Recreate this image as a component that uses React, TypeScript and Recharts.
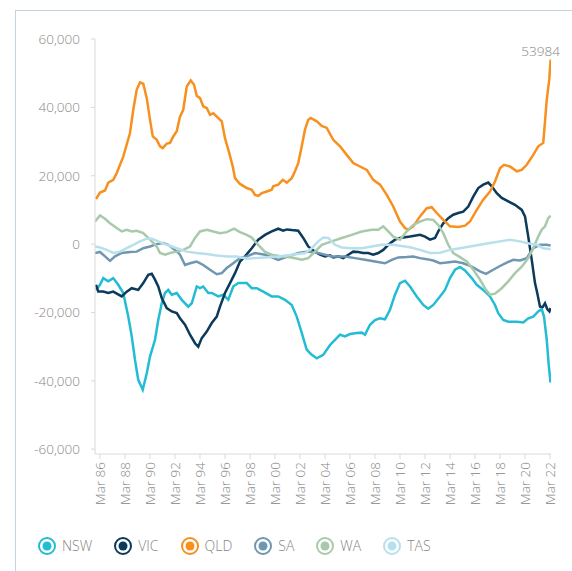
import { LineChart, Line, XAxis, YAxis, LabelList } from 'recharts';

// Net interstate migration by state (year as decimal, persons)
const nsw: [number, number][] = [
  [1985.68, -13400], [1986.0, -11900], [1986.26, -9950], [1986.66, -10900], [1987.06, -9950],
  [1987.46, -11900], [1987.86, -14300], [1988.26, -21200], [1988.54, -27000], [1988.8, -33900],
  [1989.06, -39700], [1989.42, -42600], [1989.74, -37800], [1990.0, -32900], [1990.4, -28000],
  [1990.66, -22200], [1990.94, -17300], [1991.2, -14300], [1991.46, -13400], [1991.74, -14800],
  [1992.14, -14300], [1992.54, -16300], [1993.06, -18300], [1993.34, -17300], [1993.74, -12400],
  [1994.0, -12900], [1994.26, -12400], [1994.66, -14300], [1994.94, -14300], [1995.46, -15300],
  [1995.86, -14800], [1996.26, -16300], [1996.66, -12400], [1997.06, -11400], [1997.74, -11400],
  [1998.14, -12900], [1998.54, -12900], [1999.06, -13900], [1999.74, -15300], [2000.26, -15300],
  [2000.8, -16300], [2001.34, -17800], [2001.74, -21200], [2002.14, -26000], [2002.54, -30900],
  [2002.94, -32400], [2003.34, -33400], [2003.86, -32400], [2004.4, -29500], [2004.8, -28000],
  [2005.2, -26500], [2005.6, -27000], [2006.0, -26300], [2006.54, -26000], [2006.94, -25900],
  [2007.2, -26500], [2007.6, -23600], [2008.0, -22200], [2008.4, -21700], [2008.8, -22000],
  [2009.2, -19200], [2009.6, -14800], [2010.0, -11400], [2010.4, -10700], [2010.8, -12400],
  [2011.34, -15300], [2011.86, -17800], [2012.26, -18900], [2012.66, -17800], [2013.2, -15300],
  [2013.6, -13400], [2014.0, -9950], [2014.4, -7500], [2014.8, -6700], [2015.2, -7700],
  [2015.74, -9950], [2016.14, -11900], [2016.66, -13400], [2017.2, -15300], [2017.6, -17800],
  [2017.86, -20200], [2018.26, -22200], [2018.66, -22700], [2019.34, -22700], [2019.86, -22900],
  [2020.26, -21700], [2020.66, -21200], [2021.06, -19700], [2021.34, -19000], [2021.52, -21200],
  [2021.74, -28000], [2021.9, -35400], [2022.04, -40500],
];

const vic: [number, number][] = [
  [1985.68, -11900], [1985.86, -13900], [1986.26, -13900], [1986.66, -14300], [1987.06, -13900],
  [1987.74, -15300], [1988.14, -13900], [1988.54, -12900], [1989.06, -13400], [1989.46, -11400],
  [1989.86, -9000], [1990.14, -8700], [1990.4, -10400], [1990.66, -12400], [1990.94, -15800],
  [1991.34, -18700], [1991.74, -19700], [1992.14, -20200], [1992.4, -21700], [1992.8, -23600],
  [1993.2, -26500], [1993.6, -29000], [1993.86, -30000], [1994.14, -27500], [1994.54, -25600],
  [1994.94, -23100], [1995.34, -21200], [1995.6, -18300], [1996.0, -14300], [1996.4, -11400],
  [1996.8, -8500], [1997.2, -5100], [1997.6, -3600], [1998.14, -1200], [1998.66, 1300],
  [1999.2, 2700], [1999.74, 3700], [2000.26, 4500], [2000.66, 3900], [2000.94, 4300],
  [2001.34, 4100], [2001.86, 3900], [2002.26, 1800], [2002.66, -700], [2003.2, -2200],
  [2003.6, -3100], [2004.0, -3600], [2004.4, -3300], [2004.66, -3900], [2005.06, -3600],
  [2005.46, -4100], [2005.86, -3100], [2006.26, -2200], [2006.66, -2300], [2007.06, -2600],
  [2007.46, -2600], [2007.86, -3100], [2008.26, -2600], [2008.66, -1700], [2009.06, -200],
  [2009.6, 1300], [2010.0, 1800], [2010.8, 2200], [2011.6, 2700], [2012.0, 2200],
  [2012.4, 1300], [2012.8, 1800], [2013.06, 3700], [2013.46, 6100], [2013.86, 7600],
  [2014.26, 8600], [2014.66, 9100], [2015.06, 9500], [2015.46, 11000], [2015.86, 13900],
  [2016.26, 16400], [2016.66, 17400], [2017.06, 18000], [2017.34, 16900], [2017.74, 14900],
  [2018.14, 13500], [2018.66, 12500], [2019.2, 11500], [2019.74, 10000], [2020.0, 8100],
  [2020.26, 2200], [2020.54, -4600], [2020.8, -11400], [2020.98, -14300], [2021.2, -18300],
  [2021.42, -18400], [2021.6, -17300], [2021.78, -19000], [2021.95, -19700], [2022.05, -18700],
];

const qld: [number, number][] = [
  [1985.68, 13200], [1986.0, 15100], [1986.4, 15700], [1986.66, 18000], [1987.06, 18800],
  [1987.34, 20800], [1987.86, 25600], [1988.4, 32500], [1988.66, 39300], [1988.94, 45200],
  [1989.2, 47300], [1989.46, 46900], [1989.74, 42700], [1990.0, 36400], [1990.22, 31500],
  [1990.54, 30500], [1990.8, 28600], [1991.02, 28100], [1991.34, 29400], [1991.6, 29600],
  [1991.86, 31500], [1992.14, 33000], [1992.4, 37300], [1992.66, 39300], [1992.94, 46100],
  [1993.26, 47900], [1993.52, 46600], [1993.74, 43400], [1994.0, 42700], [1994.26, 40300],
  [1994.54, 39800], [1994.8, 37800], [1995.06, 38300], [1995.34, 37300], [1995.74, 35900],
  [1996.0, 31000], [1996.34, 26600], [1996.62, 22700], [1996.8, 19300], [1997.2, 17600],
  [1997.74, 16400], [1998.14, 15900], [1998.4, 14400], [1998.66, 14100], [1998.94, 14900],
  [1999.34, 15400], [1999.74, 15900], [1999.86, 16900], [2000.26, 17400], [2000.62, 18800],
  [2000.94, 18000], [2001.34, 19300], [2001.6, 21300], [2001.86, 23700], [2002.14, 28600],
  [2002.4, 33500], [2002.66, 36400], [2002.86, 36900], [2003.34, 35900], [2003.74, 34600],
  [2004.14, 34000], [2004.66, 30500], [2005.2, 28600], [2005.74, 26100], [2006.26, 23700],
  [2006.8, 22700], [2007.34, 21700], [2007.86, 18800], [2008.4, 17400], [2008.94, 14400],
  [2009.46, 11000], [2010.0, 6600], [2010.4, 4700], [2010.66, 4200], [2011.06, 5200],
  [2011.6, 8100], [2012.14, 10500], [2012.54, 10800], [2012.94, 9100], [2013.46, 7100],
  [2014.0, 5200], [2014.66, 5000], [2015.2, 5400], [2015.6, 6600], [2016.14, 10000],
  [2016.66, 13000], [2017.2, 15400], [2017.6, 18300], [2018.0, 22200], [2018.32, 23200],
  [2018.8, 22700], [2019.34, 21300], [2019.74, 21700], [2020.14, 23200], [2020.66, 26100],
  [2021.06, 28600], [2021.46, 29600], [2021.74, 42200], [2021.94, 48100], [2022.05, 53984],
];

const sa: [number, number][] = [
  [1985.6, -2600], [1986.0, -2300], [1986.4, -3600], [1986.8, -4900], [1987.2, -3600],
  [1987.74, -2600], [1988.4, -2300], [1988.94, -2200], [1989.46, -1200], [1990.0, -700],
  [1990.54, 0], [1991.06, 300], [1991.46, -200], [1992.0, -1700], [1992.4, -3100],
  [1992.8, -6100], [1993.2, -5600], [1993.74, -5100], [1994.26, -6100], [1994.8, -7500],
  [1995.34, -8800], [1995.74, -8500], [1996.14, -7000], [1996.66, -5600], [1997.2, -4100],
  [1997.74, -3600], [1998.4, -2600], [1999.2, -3100], [2000.26, -4600], [2001.06, -3600],
  [2001.86, -2600], [2002.66, -2200], [2003.46, -2600], [2004.54, -3600], [2005.6, -3600],
  [2006.4, -4100], [2007.2, -4600], [2008.0, -5100], [2008.8, -5600], [2009.34, -4600],
  [2009.86, -3900], [2010.54, -3800], [2011.06, -3600], [2011.6, -4100], [2012.14, -4400],
  [2012.66, -4800], [2013.2, -5600], [2013.74, -5400], [2014.4, -5100], [2015.06, -5600],
  [2015.74, -6600], [2016.4, -8000], [2016.88, -8700], [2017.46, -7500], [2018.0, -6400],
  [2018.54, -5400], [2019.06, -4600], [2019.6, -4800], [2020.14, -4100], [2020.66, -1200],
  [2021.2, -200], [2021.74, -200], [2022.05, -400],
];

const wa: [number, number][] = [
  [1985.6, 6600], [1986.0, 8400], [1986.4, 7400], [1986.8, 6100], [1987.34, 4700],
  [1987.74, 3700], [1988.14, 4200], [1988.54, 3700], [1988.94, 3900], [1989.46, 3200],
  [1990.0, 1300], [1990.54, -700], [1990.8, -2600], [1991.2, -3100], [1991.6, -2600],
  [1992.14, -2200], [1992.66, -1700], [1993.2, -700], [1993.6, 1800], [1994.0, 3700],
  [1994.54, 4200], [1995.06, 3700], [1995.6, 3200], [1996.14, 3500], [1996.72, 4500],
  [1997.2, 3500], [1997.74, 2700], [1998.14, 1900], [1998.66, -200], [1999.2, -2300],
  [1999.74, -3100], [2000.54, -3600], [2001.34, -3900], [2002.14, -4600], [2002.66, -4100],
  [2003.2, -2200], [2003.74, -200], [2004.54, 800], [2005.34, 1800], [2006.14, 2700],
  [2006.94, 3700], [2007.74, 4200], [2008.26, 4200], [2008.66, 5200], [2009.06, 3700],
  [2009.46, 2200], [2010.0, 1300], [2010.54, 3700], [2011.06, 5600], [2011.6, 6600],
  [2012.14, 7300], [2012.66, 7100], [2013.06, 5600], [2013.46, 3200], [2013.86, -200],
  [2014.26, -2600], [2014.8, -3800], [2015.34, -5100], [2015.86, -7500], [2016.4, -10400],
  [2016.88, -13400], [2017.2, -14800], [2017.6, -14500], [2018.14, -12900], [2018.66, -10900],
  [2019.2, -8500], [2019.74, -6600], [2020.26, -4100], [2020.66, -1200], [2021.06, 2200],
  [2021.34, 4200], [2021.6, 5200], [2021.86, 7600], [2022.05, 8300],
];

const tas: [number, number][] = [
  [1985.6, -700], [1986.0, -1000], [1986.54, -1700], [1987.06, -2600], [1987.6, -2200],
  [1988.14, -1200], [1988.66, -200], [1989.2, 800], [1989.74, 1600], [1990.14, 1600],
  [1990.66, 800], [1991.34, -200], [1992.14, -1200], [1992.94, -2200], [1993.74, -2600],
  [1994.54, -2900], [1995.34, -3300], [1996.14, -3600], [1996.94, -3600], [1997.74, -4300],
  [1998.4, -4100], [1999.2, -3900], [2000.26, -3600], [2001.34, -3100], [2002.4, -2600],
  [2002.94, -1200], [2003.46, 800], [2003.86, 1900], [2004.26, 1800], [2004.8, -200],
  [2005.34, -1000], [2006.14, -1200], [2006.94, -1200], [2007.74, -700], [2008.54, -200],
  [2009.34, -200], [2010.0, -500], [2010.8, -900], [2011.6, -1700], [2012.4, -2600],
  [2013.2, -2500], [2014.0, -1700], [2014.8, -1200], [2015.6, -700], [2016.4, -200],
  [2017.2, 300], [2018.0, 800], [2018.8, 1300], [2019.6, 800], [2020.4, 100],
  [2020.94, -200], [2021.46, -1200], [2022.05, -1500],
];

const tickYears = [1986, 1988, 1990, 1992, 1994, 1996, 1998, 2000, 2002, 2004, 2006, 2008, 2010, 2012, 2014, 2016, 2018, 2020, 2022];
const tickLabels = ['Mar 86', 'Mar 88', 'Mar 90', 'Mar 92', 'Mar 94', 'Mar 96', 'Mar 98', 'Mar 00', 'Mar 02', 'Mar 04', 'Mar 06', 'Mar 08', 'Mar 10', 'Mar 12', 'Mar 14', 'Mar 16', 'Mar 18', 'Mar 20', 'Mar 22'];
const yTicks = [-60000, -40000, -20000, 0, 20000, 40000, 60000];

const series = [
  { name: 'NSW', points: nsw, color: '#22BCD4' },
  { name: 'VIC', points: vic, color: '#0B3A5B' },
  { name: 'QLD', points: qld, color: '#F7901E' },
  { name: 'SA', points: sa, color: '#7097B1' },
  { name: 'WA', points: wa, color: '#A8C9AB' },
  { name: 'TAS', points: tas, color: '#B8DFEC' },
];

const FONT = '"Open Sans", "DejaVu Sans", sans-serif';
const TEXT = '#858585';
const AXIS = '#d9d9d9';

const toRows = (pts: [number, number][]) => pts.map(([t, v]) => ({ t, v }));

const XTick = (props: any) => {
  const { x, y, payload } = props;
  const label = tickLabels[tickYears.indexOf(payload.value)];
  return (
    <text
      x={x}
      y={y}
      transform={`rotate(-90, ${x}, ${y})`}
      textAnchor="end"
      dominantBaseline="central"
      fill={TEXT}
      style={{ fontSize: 13.5, fontFamily: FONT, fontWeight: 300 }}
    >
      {label}
    </text>
  );
};

const formatY = (v: number) => (v === 0 ? '0' : v.toLocaleString('en-US'));

const LastLabel = (props: any) => {
  const { x, y, index } = props;
  if (index !== qld.length - 1) return null;
  return (
    <text x={x - 10} y={y - 4} textAnchor="middle" fill={TEXT} style={{ fontSize: 13.5, fontFamily: FONT, fontWeight: 300 }}>
      {qld[qld.length - 1][1]}
    </text>
  );
};

const LegendIcon = ({ color }: { color: string }) => (
  <svg width={18} height={18} style={{ display: 'block' }}>
    <circle cx={9} cy={9} r={8} fill="#fff" stroke={color} strokeWidth={2} />
    <circle cx={9} cy={9} r={4.5} fill={color} />
  </svg>
);

export default function App() {
  return (
    <div style={{ position: 'absolute', left: 0, top: 0, width: 572, height: 571, background: '#fff', overflow: 'hidden' }}>
      {/* panel frame */}
      <div style={{ position: 'absolute', left: 15, top: 10, width: 1, height: 561, background: '#c3d4e1' }} />
      <div style={{ position: 'absolute', left: 15, top: 10, width: 557, height: 1, background: '#c3d4e1' }} />

      <LineChart width={572} height={571} margin={{ top: 39, right: 21, left: 0, bottom: 57 }}>
        <XAxis
          dataKey="t"
          type="number"
          domain={[1985.6, 2022.08]}
          ticks={tickYears}
          interval={0}
          allowDataOverflow
          height={60}
          stroke={AXIS}
          tickSize={5}
          tickMargin={3}
          tick={<XTick />}
        />
        <YAxis
          type="number"
          domain={[-61400, 60000]}
          ticks={yTicks}
          interval={0}
          allowDataOverflow
          width={95}
          stroke={AXIS}
          tickSize={4}
          tickMargin={11}
          tickFormatter={formatY}
          tick={{ fill: TEXT, fontSize: 13.5, fontFamily: FONT, fontWeight: 300 }}
        />
        {series.map((s) => (
          <Line
            key={s.name}
            name={s.name}
            data={toRows(s.points)}
            dataKey="v"
            type="linear"
            stroke={s.color}
            strokeWidth={2.5}
            dot={false}
            activeDot={false}
            isAnimationActive={false}
          >
            {s.name === 'QLD' && <LabelList dataKey="v" content={<LastLabel />} />}
          </Line>
        ))}
      </LineChart>

      {/* legend */}
      <div style={{ position: 'absolute', left: 38, top: 536, display: 'flex', alignItems: 'center', fontFamily: FONT, fontWeight: 300, fontSize: 14, color: TEXT }}>
        {series.map((s) => (
          <div key={s.name} style={{ display: 'flex', alignItems: 'center', marginRight: 22 }}>
            <LegendIcon color={s.color} />
            <span style={{ marginLeft: 6 }}>{s.name}</span>
          </div>
        ))}
      </div>
    </div>
  );
}
